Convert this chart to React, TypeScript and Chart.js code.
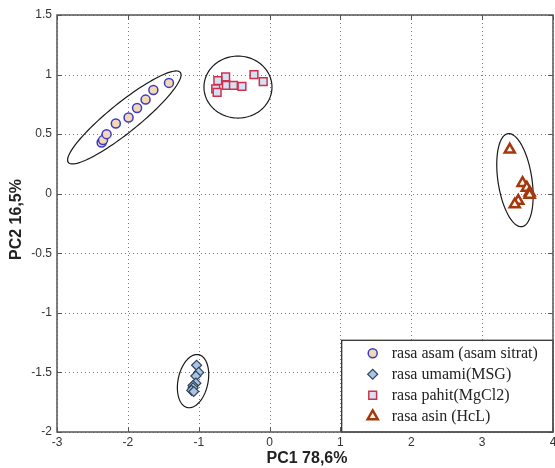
import { useEffect, useRef } from "react";
import { Chart, registerables } from "chart.js";
import { drawPoint } from "chart.js/helpers";

Chart.register(...registerables);

// ---- data ----
const asamX = [-2.37, -2.35, -2.3, -2.17, -1.99, -1.87, -1.75, -1.64, -1.42];
const asamY = [0.43, 0.45, 0.5, 0.59, 0.64, 0.72, 0.79, 0.87, 0.93];

const umamiX = [-1.03, -1.0, -1.04, -1.04, -1.08, -1.08, -1.1, -1.07];
const umamiY = [-1.44, -1.5, -1.53, -1.59, -1.61, -1.63, -1.65, -1.66];

const pahitX = [-0.62, -0.73, -0.76, -0.74, -0.61, -0.51, -0.39, -0.22, -0.09];
const pahitY = [0.98, 0.95, 0.88, 0.85, 0.91, 0.91, 0.9, 1.0, 0.94];

const asinX = [3.39, 3.57, 3.63, 3.67, 3.67, 3.51, 3.46];
const asinY = [0.37, 0.09, 0.05, 0.01, -0.01, -0.06, -0.09];

const seriesLabels = [
  "rasa asam (asam sitrat)",
  "rasa umami(MSG)",
  "rasa pahit(MgCl2)",
  "rasa asin (HcL)",
];

// ellipses: [centerX, centerY, majorHalfX, majorHalfY, minorHalfX, minorHalfY] in data units
const ellipseAsam = [-2.05, 0.64, 0.79, 0.378, 0.13, -0.097];
const ellipseUmami = [-1.08, -1.573, 0.078, 0.222, 0.207, -0.025];
const ellipsePahit = [-0.446, 0.895, 0.48, 0.0, 0.0, 0.26];
const ellipseAsin = [3.463, 0.114, 0.099, -0.39, 0.237, 0.021];
const ellipses = [ellipseAsam, ellipseUmami, ellipsePahit, ellipseAsin];

const xTitle = "PC1 78,6%";
const yTitle = "PC2 16,5%";

const toPoints = (xs: number[], ys: number[]) => xs.map((x, i) => ({ x, y: ys[i] }));

const AXIS = "#555555";
const TICK_COLOR = "#333";
const TICK_FONT = '12px "Liberation Sans"';

const overlayPlugin = {
  id: "overlay",
  beforeDatasetsDraw(chart: any) {
    const { ctx, chartArea: a } = chart;
    const xs = chart.scales.x;
    const ys = chart.scales.y;
    ctx.save();
    // dotted grid
    ctx.strokeStyle = "#7a7a7a";
    ctx.lineWidth = 1;
    ctx.setLineDash([1, 3]);
    xs.ticks.forEach((t: any) => {
      const px = Math.round(xs.getPixelForValue(t.value)) + 0.5;
      ctx.beginPath();
      ctx.moveTo(px, a.bottom);
      ctx.lineTo(px, a.top);
      ctx.stroke();
    });
    ys.ticks.forEach((t: any) => {
      const py = Math.round(ys.getPixelForValue(t.value)) + 0.5;
      ctx.beginPath();
      ctx.moveTo(a.left, py);
      ctx.lineTo(a.right, py);
      ctx.stroke();
    });
    ctx.setLineDash([]);

    ctx.beginPath();
    ctx.rect(a.left, a.top, a.right - a.left, a.bottom - a.top);
    ctx.clip();
    ctx.strokeStyle = "#1a1a1a";
    ctx.lineWidth = 1.2;
    for (const e of ellipses) {
      const [cx, cy, ax, ay, bx, by] = e;
      ctx.beginPath();
      const N = 120;
      for (let i = 0; i <= N; i++) {
        const t = (i / N) * Math.PI * 2;
        const dx = cx + ax * Math.cos(t) + bx * Math.sin(t);
        const dy = cy + ay * Math.cos(t) + by * Math.sin(t);
        const px = xs.getPixelForValue(dx);
        const py = ys.getPixelForValue(dy);
        if (i === 0) ctx.moveTo(px, py);
        else ctx.lineTo(px, py);
      }
      ctx.closePath();
      ctx.stroke();
    }
    ctx.restore();
  },
  afterDraw(chart: any) {
    const { ctx, chartArea: a } = chart;
    const xs = chart.scales.x;
    const ys = chart.scales.y;
    ctx.save();
    // inward tick marks
    ctx.strokeStyle = AXIS;
    ctx.lineWidth = 1;
    const tl = 5;
    xs.ticks.forEach((t: any) => {
      const px = Math.round(xs.getPixelForValue(t.value)) + 0.5;
      ctx.beginPath();
      ctx.moveTo(px, a.bottom);
      ctx.lineTo(px, a.bottom - tl);
      ctx.moveTo(px, a.top);
      ctx.lineTo(px, a.top + tl);
      ctx.stroke();
    });
    ys.ticks.forEach((t: any) => {
      const py = Math.round(ys.getPixelForValue(t.value)) + 0.5;
      ctx.beginPath();
      ctx.moveTo(a.left, py);
      ctx.lineTo(a.left + tl, py);
      ctx.moveTo(a.right, py);
      ctx.lineTo(a.right - tl, py);
      ctx.stroke();
    });

    // x tick labels
    ctx.fillStyle = TICK_COLOR;
    ctx.font = TICK_FONT;
    ctx.textAlign = "center";
    ctx.textBaseline = "middle";
    xs.ticks.forEach((t: any) => {
      ctx.fillText(`${Number(t.value)}`, xs.getPixelForValue(t.value), a.bottom + 11);
    });

    // legend box (bottom-right)
    const lx = a.left + (a.right - a.left) * 0.574;
    const ly = a.top + (a.bottom - a.top) * 0.78;
    ctx.fillStyle = "#ffffff";
    ctx.fillRect(lx, ly, a.right - lx, a.bottom - ly);
    ctx.strokeStyle = "#222";
    ctx.lineWidth = 1.2;
    ctx.strokeRect(lx, ly, a.right - lx, a.bottom - ly);
    ctx.font = '16px "Liberation Serif"';
    ctx.textBaseline = "middle";
    ctx.textAlign = "left";
    chart.data.datasets.forEach((ds: any, i: number) => {
      const rowY = ly + 13 + i * 21;
      const mx = lx + 31;
      ctx.fillStyle = ds.pointBackgroundColor;
      ctx.strokeStyle = ds.pointBorderColor;
      ctx.lineWidth = ds.pointBorderWidth;
      drawPoint(
        ctx,
        {
          pointStyle: ds.pointStyle,
          rotation: 0,
          radius: ds.pointRadius,
          borderWidth: ds.pointBorderWidth,
        },
        mx,
        rowY
      );
      ctx.fillStyle = "#222";
      ctx.fillText(seriesLabels[i], lx + 50, rowY + 1);
    });

    // axes box
    ctx.strokeStyle = AXIS;
    ctx.lineWidth = 1.5;
    ctx.strokeRect(a.left, a.top, a.right - a.left, a.bottom - a.top);

    // axis titles
    ctx.fillStyle = "#222";
    ctx.font = 'bold 16px "Liberation Sans"';
    ctx.textAlign = "center";
    ctx.textBaseline = "middle";
    ctx.fillText(xTitle, (a.left + a.right) / 2 + 2, 459);
    ctx.save();
    ctx.translate(17, (a.top + a.bottom) / 2 - 4);
    ctx.rotate(-Math.PI / 2);
    ctx.fillText(yTitle, 0, 0);
    ctx.restore();
    ctx.restore();
  },
};

export default function App() {
  const ref = useRef<HTMLCanvasElement | null>(null);

  useEffect(() => {
    document.body.style.margin = "0";
    const canvas = ref.current;
    if (!canvas) return;
    const gridStyle = { display: false, drawTicks: false, tickLength: 0 };
    const chart = new Chart(canvas, {
      type: "scatter",
      data: {
        datasets: [
          {
            label: seriesLabels[0],
            data: toPoints(asamX, asamY),
            pointStyle: "circle",
            pointRadius: 4.5,
            pointBorderWidth: 1.5,
            pointBackgroundColor: "#f4d9b0",
            pointBorderColor: "#3a3ad0",
          },
          {
            label: seriesLabels[1],
            data: toPoints(umamiX, umamiY),
            pointStyle: "rectRot",
            pointRadius: 5,
            pointBorderWidth: 1.2,
            pointBackgroundColor: "#a9c4e4",
            pointBorderColor: "#34445a",
          },
          {
            label: seriesLabels[2],
            data: toPoints(pahitX, pahitY),
            pointStyle: "rect",
            pointRadius: 5.5,
            pointBorderWidth: 1.5,
            pointBackgroundColor: "#d3e2f6",
            pointBorderColor: "#d2304a",
          },
          {
            label: seriesLabels[3],
            data: toPoints(asinX, asinY),
            pointStyle: "triangle",
            pointRadius: 5.8,
            pointBorderWidth: 2.5,
            pointBackgroundColor: "#fff4ee",
            pointBorderColor: "#a3380e",
          },
        ] as any,
      },
      options: {
        responsive: false,
        animation: false,
        layout: { autoPadding: false, padding: { top: 15, right: 2, left: 0, bottom: 0 } },
        plugins: {
          legend: { display: false },
          tooltip: { enabled: false },
        },
        scales: {
          x: {
            type: "linear",
            min: -3,
            max: 4,
            ticks: { stepSize: 1, display: false },
            grid: gridStyle as any,
            border: { display: false },
            afterFit: (s: any) => {
              s.height = 36;
            },
          },
          y: {
            type: "linear",
            min: -2,
            max: 1.5,
            ticks: {
              stepSize: 0.5,
              padding: 5,
              color: TICK_COLOR,
              font: { family: "Liberation Sans", size: 12 },
              callback: (v: any) => `${Number(v)}`,
            },
            grid: gridStyle as any,
            border: { display: false },
            afterFit: (s: any) => {
              s.width = 57;
            },
          },
        },
      },
      plugins: [overlayPlugin as any],
    });
    return () => chart.destroy();
  }, []);

  return (
    <div style={{ position: "absolute", left: 0, top: 0, width: 555, height: 468 }}>
      <canvas ref={ref} width={555} height={468} style={{ display: "block" }} />
    </div>
  );
}
